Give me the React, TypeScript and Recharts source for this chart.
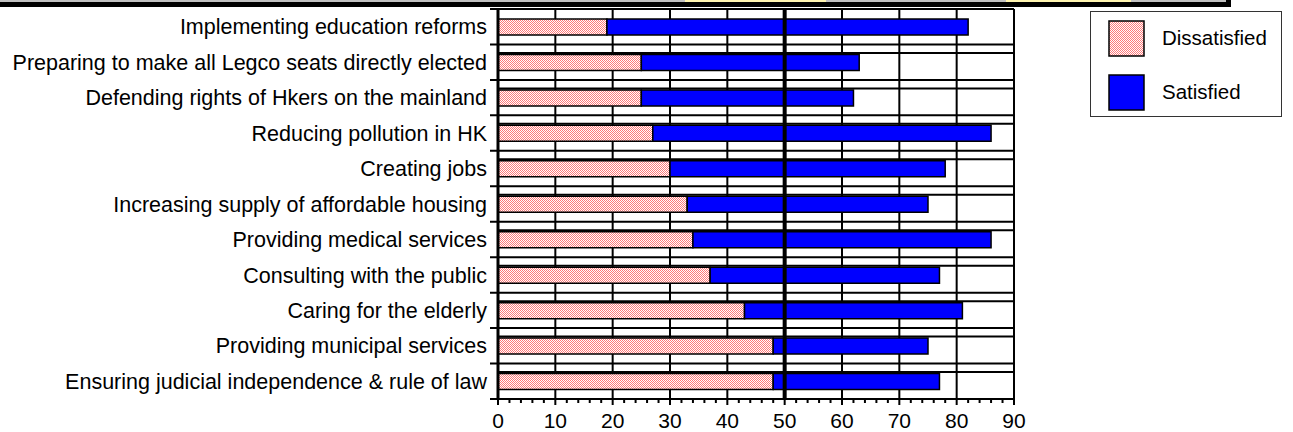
import React from 'react';
import * as R from 'recharts';
import {
  BarChart,
  Bar,
  XAxis,
  YAxis,
  CartesianGrid,
  ReferenceLine,
} from 'recharts';

// 항목 (위에서 아래 순서)
const categories = [
  'Implementing education reforms',
  'Preparing to make all Legco seats directly elected',
  'Defending rights of Hkers on the mainland',
  'Reducing pollution in HK',
  'Creating jobs',
  'Increasing supply of affordable housing',
  'Providing medical services',
  'Consulting with the public',
  'Caring for the elderly',
  'Providing municipal services',
  'Ensuring judicial independence & rule of law',
];

const dissatisfied = [19, 25, 25, 27, 30, 33, 34, 37, 43, 48, 48];
const satisfied = [63, 38, 37, 59, 48, 42, 52, 40, 38, 27, 29];

const xTicks = [0, 2, 4, 6, 8, 10, 12, 14, 16, 18, 20, 22, 24, 26, 28, 30, 32, 34, 36, 38, 40, 42, 44, 46, 48, 50, 52, 54, 56, 58, 60, 62, 64, 66, 68, 70, 72, 74, 76, 78, 80, 82, 84, 86, 88, 90];
const gridX = [10, 20, 30, 40, 60, 70, 80, 90];
const X_MAX = 90;

const FONT = '"Liberation Sans", Arial, Helvetica, sans-serif';

const data = categories.map((name, i) => ({
  name,
  dissatisfied: dissatisfied[i],
  satisfied: satisfied[i],
}));

// 항목 경계선
const boundaryLines = ({ offset }: any) => {
  const top = offset?.top ?? 9;
  const h = offset?.height ?? 390;
  const band = h / categories.length;
  return categories.map((_, i) => top + i * band).concat([top + h]);
};

// 막대 위쪽 보조선
const innerLines = ({ offset }: any) => {
  const top = offset?.top ?? 9;
  const h = offset?.height ?? 390;
  const band = h / categories.length;
  return categories.slice(1).map((_, i) => top + (i + 1) * band + band * 0.24);
};

// 세로 격자 (막대 아래에 그림)
const usePlot = (R as any).usePlotArea || (() => undefined);
const VerticalGrid = () => {
  const plot = usePlot();
  const x0 = plot?.x ?? 498;
  const y0 = plot?.y ?? 9;
  const w = plot?.width ?? 516;
  const h = plot?.height ?? 390;
  return (
    <g className="v-grid">
      {gridX.map((v) => {
        const x = x0 + (v / X_MAX) * w;
        return <line key={v} x1={x} x2={x} y1={y0} y2={y0 + h} stroke="#000" strokeWidth={2} />;
      })}
    </g>
  );
};

const XTick = (props: any) => {
  const { x, y, payload } = props;
  const major = payload.value % 10 === 0;
  return (
    <g>
      <line x1={x} x2={x} y1={y} y2={y + (major ? 6 : 4)} stroke="#000" strokeWidth={2} />
      {major && (
        <text x={x} y={y + 29} textAnchor="middle" fontSize={21} fontFamily={FONT} fill="#000">
          {payload.value}
        </text>
      )}
    </g>
  );
};

const Header = () => (
  <div style={{ position: 'absolute', left: 0, top: 0, width: 1231, height: 7 }}>
    <div style={{ position: 'absolute', left: 0, top: 0, width: 1226, height: 2, background: '#c0c0c0' }} />
    <div style={{ position: 'absolute', left: 685, top: 0, width: 141, height: 2, background: '#fff5b0' }} />
    <div style={{ position: 'absolute', left: 1006, top: 0, width: 125, height: 2, background: '#fff5b0' }} />
    <div style={{ position: 'absolute', left: 0, top: 2, width: 1231, height: 5, background: '#000' }} />
    <div style={{ position: 'absolute', left: 1226, top: 0, width: 5, height: 7, background: '#000' }} />
  </div>
);

const LegendBox = () => (
  <div
    style={{
      position: 'absolute',
      left: 1090,
      top: 11,
      width: 190,
      height: 104,
      border: '1.5px solid #333',
      background: '#fff',
      fontFamily: FONT,
      fontSize: 20.5,
    }}
  >
    {[
      { label: 'Dissatisfied', fill: 'url(#pinkHatch)', top: 8 },
      { label: 'Satisfied', fill: '#0000ff', top: 62 },
    ].map((it) => (
      <div key={it.label}>
        <svg style={{ position: 'absolute', left: 17, top: it.top }} width={37} height={37}>
          <rect x={1} y={1} width={35} height={35} fill={it.fill} stroke="#000" strokeWidth={1.5} />
        </svg>
        <span style={{ position: 'absolute', left: 71, top: it.top + 6, lineHeight: '24px' }}>{it.label}</span>
      </div>
    ))}
  </div>
);

export default function App() {
  return (
    <div style={{ position: 'absolute', left: 0, top: 0, width: 1293, height: 432, background: '#fff' }}>
      <svg width={0} height={0} style={{ position: 'absolute' }}>
        <defs>
          <pattern id="pinkHatch" width={2} height={2} patternUnits="userSpaceOnUse">
            <rect width={2} height={2} fill="#ffffff" />
            <rect x={0} y={0} width={1} height={1} fill="#ff7a7a" />
            <rect x={1} y={1} width={1} height={1} fill="#ff7a7a" />
          </pattern>
        </defs>
      </svg>
      <Header />
      <BarChart
        width={1293}
        height={432}
        data={data}
        layout="vertical"
        margin={{ top: 9, right: 279, left: 0, bottom: 0 }}
        barCategoryGap={0}
      >
        <CartesianGrid
          vertical={false}
          x={490}
          width={524}
          stroke="#000"
          strokeWidth={2}
          horizontalCoordinatesGenerator={boundaryLines}
        />
        <CartesianGrid
          vertical={false}
          stroke="#000"
          strokeWidth={2}
          horizontalCoordinatesGenerator={innerLines}
        />
        <VerticalGrid />
        <XAxis
          type="number"
          domain={[0, X_MAX]}
          ticks={xTicks}
          interval={0}
          height={33}
          tickLine={false}
          tickSize={0}
          tickMargin={0}
          tick={<XTick />}
          axisLine={{ stroke: '#000', strokeWidth: 2 }}
        />
        <YAxis
          type="category"
          dataKey="name"
          width={498}
          interval={0}
          tickLine={false}
          tickSize={0}
          tickMargin={11}
          axisLine={{ stroke: '#000', strokeWidth: 3 }}
          tick={{ fill: '#000', fontSize: 21.5, fontFamily: FONT }}
        />
        <Bar
          dataKey="dissatisfied"
          stackId="a"
          fill="url(#pinkHatch)"
          stroke="#000"
          strokeWidth={1.5}
          barSize={16}
          isAnimationActive={false}
        />
        <Bar
          dataKey="satisfied"
          stackId="a"
          fill="#0000ff"
          stroke="#000"
          strokeWidth={1.5}
          barSize={16}
          isAnimationActive={false}
        />
        <ReferenceLine x={50} stroke="#000" strokeWidth={4} />
      </BarChart>
      <LegendBox />
    </div>
  );
}
